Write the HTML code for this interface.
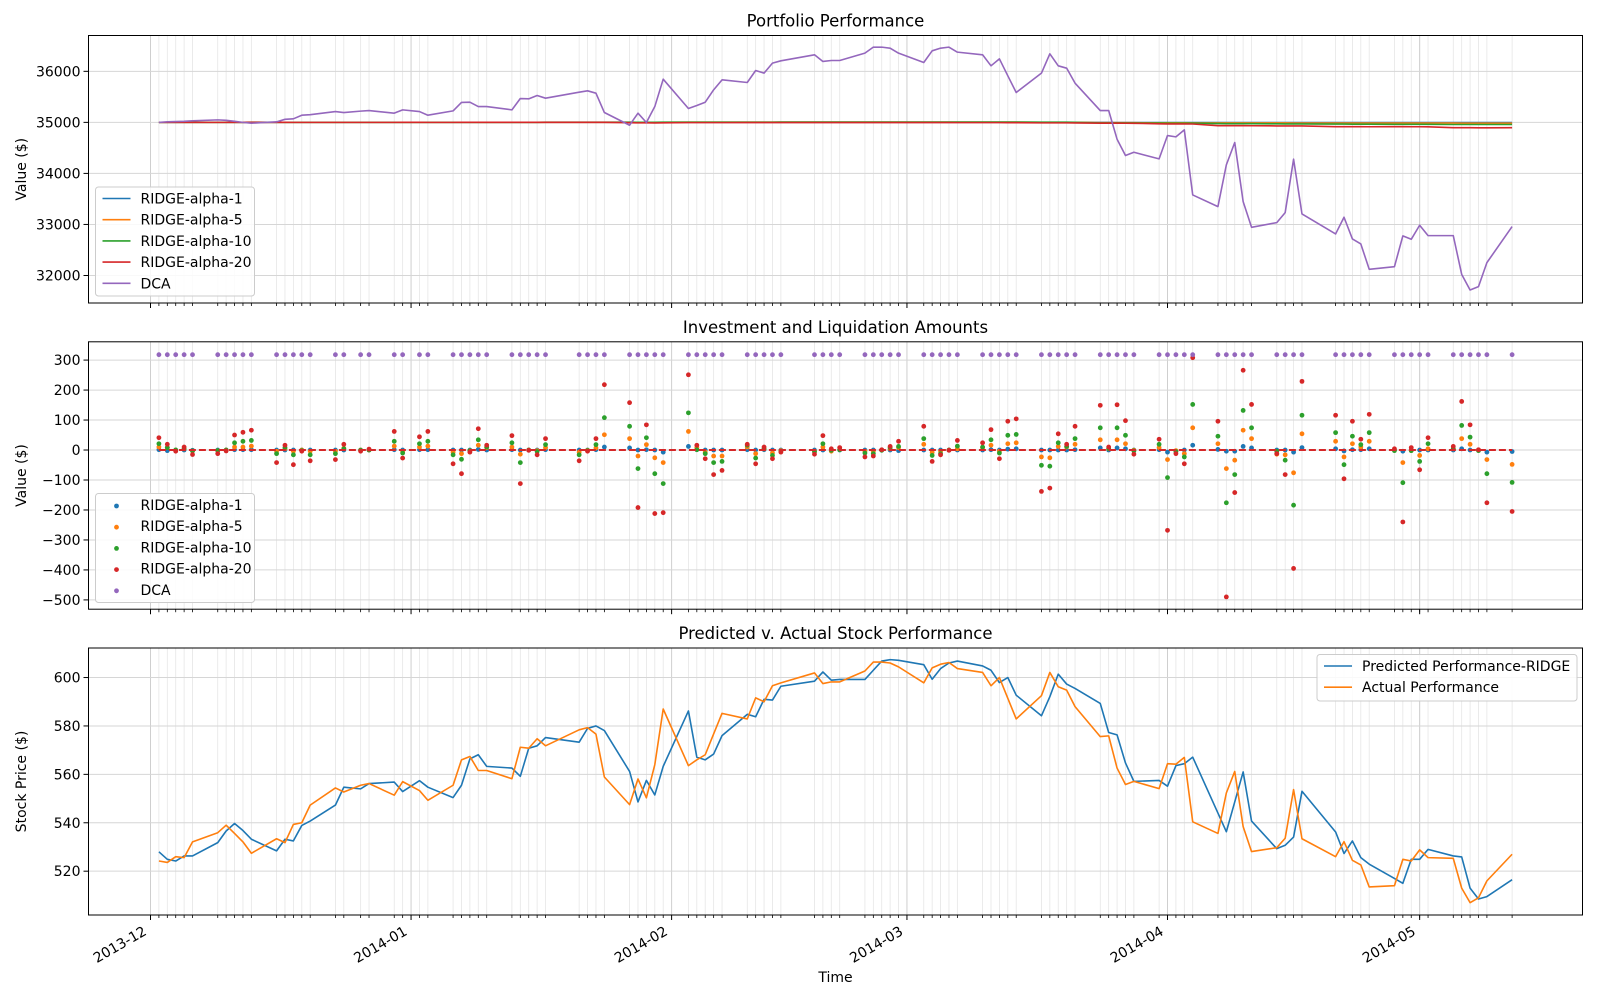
<!DOCTYPE html>
<html><head><meta charset="utf-8"><title>Portfolio Performance</title>
<style>
html,body{margin:0;padding:0;background:#fff;}
svg{display:block;font-family:"DejaVu Sans","Liberation Sans",sans-serif;}
</style></head>
<body>
<svg id="fig" xmlns="http://www.w3.org/2000/svg" width="1600" height="1000" viewBox="0 0 1600 1000"></svg>
<script>
// ---- data ----
const tradeDay = [1,2,3,4,5,8,9,10,11,12,15,16,17,18,19,22,23,25,26,29,30,
32,33,36,37,38,39,40,43,44,45,46,47,51,52,53,54,57,58,59,60,61,
64,65,66,67,68,71,72,73,74,75,79,80,81,82,85,86,87,88,89,
92,93,94,95,96,99,100,101,102,103,106,107,108,109,110,113,114,115,116,117,120,
121,122,123,124,127,128,129,130,131,134,135,136,137,141,142,143,144,145,148,149,150,
151,152,155,156,157,158,159,162];
const monthTickDays = [0,31,62,90,121,151];
const monthTickLabels = ["2013-12","2014-01","2014-02","2014-03","2014-04","2014-05"];

const dcaValue = [35000,35010,35015,35020,35030,35049,35040,35020,35000,34984,35010,35060,35070,35140,35150,35212,35193,35220,35232,35180,35245,
35212,35140,35225,35390,35395,35310,35310,35245,35467,35461,35526,35474,35591,35618,35572,35193,34944,35180,34997,35310,35846,
35271,35330,35395,35637,35833,35781,36016,35964,36160,36206,36324,36193,36212,36212,36356,36474,36474,36454,36356,
36173,36402,36454,36474,36376,36324,36108,36245,35912,35585,35964,36343,36108,36062,35768,35232,35232,34670,34350,34415,34284,
34742,34716,34853,33578,33350,34167,34605,33448,32944,33036,33232,34278,33206,32814,33141,32716,32618,32121,32173,32775,32709,
32984,32781,32781,32023,31716,31781,32252,32958];
const ridge1Value = [35000,35000,35000,35000,35000,35000,35000,35000,35000,35000,35000,35000,35000,35000,35000,35000,35000,35000,35000,35000,35000,
35000,35000,35000,35000,35000,35000,35000,35000,35000,35000,35000,35000,35000,35000,35000,35000,35000,35000,35000,35000,35000,
35000,35000,35000,35000,35000,35000,35000,35000,35000,35000,35000,35000,35000,35000,35000,35000,35000,35000,35000,
35000,35000,35000,35000,35000,35000,35000,35000,35000,35000,35000,35000,35000,35000,35000,34998,34998,34997,34997,34997,34997,
34997,34997,34997,34996,34996,34996,34996,34996,34996,34996,34996,34996,34996,34996,34996,34996,34996,34996,34996,34996,34996,
34996,34996,34996,34996,34996,34996,34996,34996];
const ridge5Value = [35000,35000,35000,35000,35000,35000,35000,35001,35001,35001,35000,35000,35000,35000,35000,35000,35000,35000,35000,35000,35001,
35001,35000,35000,35001,35001,35001,35001,35001,35001,35001,35001,35002,35002,35002,35002,35002,35001,35001,35001,35000,35002,
35003,35003,35003,35003,35003,35003,35003,35003,35003,35003,35003,35003,35003,35003,35003,35003,35003,35003,35003,
35003,35003,35003,35003,35003,35003,35003,35003,35003,35003,35002,35002,35002,35002,35002,34994,34994,34993,34993,34993,34992,
34991,34991,34991,34990,34989,34988,34988,34989,34989,34988,34988,34987,34987,34987,34987,34987,34987,34986,34986,34986,34986,
34986,34986,34986,34985,34985,34985,34985,34985];
const ridge10Value = [35000,35001,35001,35001,35001,35001,35001,35002,35002,35003,35002,35002,35001,35001,35001,35001,35001,35001,35001,35001,35002,
35002,35001,35001,35002,35002,35002,35002,35002,35002,35002,35002,35003,35003,35003,35003,35004,35003,35002,35002,35001,35003,
35004,35004,35004,35004,35004,35004,35004,35004,35004,35005,35005,35005,35005,35005,35005,35005,35005,35005,35005,
35005,35005,35005,35005,35005,35005,35005,35005,35005,35005,35004,35003,35003,35003,35002,34990,34990,34989,34988,34988,34986,
34985,34985,34985,34984,34976,34975,34975,34975,34974,34971,34970,34970,34970,34966,34966,34965,34965,34964,34962,34962,34962,
34961,34961,34958,34958,34958,34958,34958,34958];
const ridge20Value = [35000,35000,35000,35000,35000,35000,35000,35001,35001,35002,35001,35001,35000,35000,35000,35000,35000,35000,35000,35000,35001,
35001,35000,35000,35001,35001,35001,35001,35001,35001,35001,35001,35001,35001,35001,35001,35001,34993,34990,34991,34988,34992,
34995,34995,34995,34995,34995,34996,34996,34996,34996,34996,34996,34996,34996,34996,34996,34996,34996,34996,34996,
34996,34996,34996,34996,34995,34995,34995,34995,34994,34993,34990,34990,34990,34990,34988,34985,34985,34984,34983,34982,34972,
34970,34970,34970,34968,34936,34935,34935,34935,34934,34931,34930,34930,34930,34916,34915,34915,34915,34914,34915,34915,34914,
34914,34913,34896,34895,34895,34894,34894,34895];

const dcaAmount = [318,318,318,318,318,318,318,318,318,318,318,318,318,318,318,318,318,318,318,318,318,
318,318,318,318,318,318,318,318,318,318,318,318,318,318,318,318,318,318,318,318,318,
318,318,318,318,318,318,318,318,318,318,318,318,318,318,318,318,318,318,318,
318,318,318,318,318,318,318,318,318,318,318,318,318,318,318,318,318,318,318,318,318,
318,318,318,318,318,318,318,318,318,318,318,318,318,318,318,318,318,318,318,318,318,
318,318,318,318,318,318,318,318];
const ridge1Amount = [1,-2,0,0,-1,0,0,1,1,1,0,0,0,0,0,0,0,0,0,1,0,
1,1,0,0,0,2,0,1,0,0,0,1,0,0,1,10,7,0,1,0,-7,
12,1,0,0,0,1,0,1,0,0,0,0,0,0,0,0,0,0,-2,
0,0,0,0,0,0,1,0,3,4,0,0,0,0,1,7,0,7,4,0,1,
-7,-3,0,16,2,-4,-4,12,7,0,0,-7,8,4,-3,1,1,4,0,-4,0,
0,0,0,4,0,0,-7,-5];
const ridge5Amount = [10,8,0,4,-3,-2,0,10,10,13,-4,4,-4,0,-4,-4,6,0,0,13,-4,
10,13,-7,-12,-2,16,8,10,-14,0,-2,8,-7,-1,7,51,38,-20,18,-26,-42,
62,8,-7,-20,-20,10,-12,4,-10,-2,-4,10,-4,1,-4,-4,0,4,8,
19,-8,-4,0,4,8,16,-4,21,24,-23,-26,12,10,19,34,4,34,21,-1,8,
-32,-2,-12,74,21,-62,-34,66,38,-14,-16,-76,54,29,-23,21,10,29,0,-42,-2,
-18,4,4,38,19,-1,-32,-48];
const ridge10Amount = [21,8,0,4,-3,-2,0,24,29,32,-12,8,-16,-2,-16,-12,4,-1,0,29,-10,
21,29,-16,-31,-2,34,10,24,-42,0,-5,18,-16,-2,18,108,79,-62,41,-79,-112,
124,1,-12,-42,-38,16,-27,4,-18,-4,-6,21,-1,1,-10,-12,-1,8,12,
38,-18,-12,0,13,10,34,-10,49,52,-51,-54,24,12,38,74,5,74,49,-3,19,
-92,-5,-23,152,46,-176,-82,132,74,-4,-34,-184,116,58,-49,46,18,58,-2,-109,-2,
-38,21,5,82,43,-2,-79,-108];
const ridge20Amount = [41,19,-4,10,-15,-12,-3,50,59,66,-42,16,-49,-4,-36,-32,19,-4,3,62,-27,
44,62,-46,-79,-7,71,16,48,-112,-1,-16,38,-36,-4,38,218,158,-192,84,-212,-209,
251,16,-29,-82,-68,19,-46,10,-29,-7,-14,48,4,8,-23,-20,1,12,29,
79,-38,-16,-1,32,24,68,-29,96,104,-138,-127,54,19,79,149,10,151,98,-14,36,
-268,-12,-46,308,96,-490,-142,266,152,-12,-82,-395,229,116,-96,96,36,119,4,-240,8,
-66,41,12,162,84,1,-176,-205];

const predictedPrice = [528.0,524.9,524.2,526.3,526.3,531.8,536.6,539.7,536.8,533.2,528.4,533.2,532.5,538.9,540.7,547.3,554.7,554.0,556.2,556.8,552.9,
557.4,554.7,550.4,555.5,566.4,568.1,563.3,562.6,559.2,570.8,571.8,575.2,573.3,579.0,580.0,578.1,561.2,548.6,557.5,551.5,563.3,
586.2,567.1,566.0,568.4,576.0,584.8,583.8,591.0,590.7,596.4,598.5,602.3,598.9,599.2,599.2,603.0,606.8,607.4,607.1,
605.3,599.3,603.7,606.0,606.8,604.8,603.0,597.9,600.0,592.7,584.2,592.1,601.4,597.3,595.5,589.3,577.3,576.3,564.7,557.1,557.5,
555.1,563.6,564.4,567.1,544.0,536.3,548.6,561.0,540.7,529.3,530.7,534.1,553.0,536.2,527.3,532.5,525.6,522.9,517.0,515.0,524.9,
524.9,529.0,526.3,525.9,513.0,508.5,509.5,516.5];
const actualPrice = [524.2,523.6,526.0,525.6,532.1,535.9,539.0,535.6,532.1,527.4,533.4,531.8,539.3,540.0,547.3,554.4,552.7,555.5,556.2,551.4,557.0,
553.3,549.3,555.5,566.0,567.4,561.6,561.6,558.2,571.2,570.8,574.7,571.8,578.4,579.3,576.6,558.9,547.5,558.1,550.3,564.0,587.0,
563.6,566.0,568.1,576.7,585.2,582.9,591.6,590.0,596.6,597.8,601.9,597.5,598.2,598.2,602.7,606.4,606.4,606.0,604.4,
597.8,604.0,605.5,606.2,603.7,602.1,596.6,600.0,591.4,582.9,592.5,602.1,596.2,594.8,588.0,575.6,575.9,562.6,555.8,557.1,554.1,
564.4,564.2,567.0,540.4,535.6,552.3,561.2,538.4,528.1,529.7,533.6,553.7,533.4,526.0,532.2,524.5,522.6,513.5,514.0,524.9,524.2,
528.8,525.6,525.3,513.0,507.0,509.0,516.0,527.0];

const p1Ticks = [32000,33000,34000,35000,36000];
const p2Ticks = [-500,-400,-300,-200,-100,0,100,200,300];
const p3Ticks = [520,540,560,580,600];

// ---- drawing ----
const NS = "http://www.w3.org/2000/svg";
const svg = document.getElementById("fig");
function mk(tag, attrs, parent) {
  const e = document.createElementNS(NS, tag);
  for (const k in attrs) e.setAttribute(k, attrs[k]);
  (parent || svg).appendChild(e);
  return e;
}
const AX_L = 88.5, AX_R = 1582.5;
const xOf = d => 150.5 + 8.405 * d;
function yScale(dmin, dmax, top, bottom) {
  return v => bottom - (v - dmin) / (dmax - dmin) * (bottom - top);
}
const panels = [
  {name: "portfolio-panel", top: 35.5, bottom: 303, y: yScale(31461, 36702, 35.5, 303), ticks: p1Ticks, title: "Portfolio Performance", ylabel: "Value ($)"},
  {name: "investment-panel", top: 341.8, bottom: 609.2, y: yScale(-531, 361, 341.8, 609.2), ticks: p2Ticks, title: "Investment and Liquidation Amounts", ylabel: "Value ($)"},
  {name: "prediction-panel", top: 648, bottom: 915, y: yScale(501.9, 612.2, 648, 915), ticks: p3Ticks, title: "Predicted v. Actual Stock Performance", ylabel: "Stock Price ($)"}
];
const colors = {blue: "#1f77b4", orange: "#ff7f0e", green: "#2ca02c", red: "#d62728", purple: "#9467bd"};
const fmt = v => (v < 0 ? "\u2212" + Math.abs(v) : String(v));

panels.forEach((p, pi) => {
  const g = mk("g", {});
  
  
  // minor grid
  tradeDay.forEach(d => {
    const l = mk("line", {x1: xOf(d), x2: xOf(d), y1: p.top, y2: p.bottom, stroke: "#e6e6e6", "stroke-width": 0.8}, g);
    
    
    const t = mk("line", {x1: xOf(d), x2: xOf(d), y1: p.bottom, y2: p.bottom + 3, stroke: "#000", "stroke-width": 0.8}, g);
    
    
  });
  // major x grid
  monthTickDays.forEach((d, i) => {
    const l = mk("line", {x1: xOf(d), x2: xOf(d), y1: p.top, y2: p.bottom, stroke: "#cfcfcf", "stroke-width": 1}, g);
    
    
    const t = mk("line", {x1: xOf(d), x2: xOf(d), y1: p.bottom, y2: p.bottom + 5, stroke: "#000", "stroke-width": 1}, g);
    
    
    if (pi === 2) {
      const tx = xOf(d) - 3, ty = p.bottom + 19;
      const lab = mk("text", {x: tx, y: ty, "text-anchor": "end", "font-size": 14, fill: "#000", transform: "rotate(-30 " + tx + " " + ty + ")"}, g);
      lab.textContent = monthTickLabels[i];
      
      
    }
  });
  // y grid + ticks
  p.ticks.forEach(v => {
    const y = p.y(v);
    const l = mk("line", {x1: AX_L, x2: AX_R, y1: y, y2: y, stroke: "#d6d6d6", "stroke-width": 1}, g);
    
    
    const t = mk("line", {x1: AX_L - 5, x2: AX_L, y1: y, y2: y, stroke: "#000", "stroke-width": 1}, g);
    
    
    const lab = mk("text", {x: AX_L - 8, y: y + 5, "text-anchor": "end", "font-size": 14, fill: "#000"}, g);
    lab.textContent = fmt(v);
    
    
  });
  // title
  const tt = mk("text", {x: (AX_L + AX_R) / 2, y: p.top - 9, "text-anchor": "middle", "font-size": 16.5, fill: "#000"}, g);
  tt.textContent = p.title;
  
  
  // y label
  const cy = (p.top + p.bottom) / 2;
  const yl = mk("text", {x: 26, y: cy, "text-anchor": "middle", "font-size": 14, fill: "#000", transform: "rotate(-90 26 " + cy + ")"}, g);
  yl.textContent = p.ylabel;
  
  
  p.g = g;
});

function polyline(p, values, color, name) {
  const pts = values.map((v, i) => xOf(tradeDay[i]).toFixed(2) + "," + p.y(v).toFixed(2)).join(" ");
  const pl = mk("polyline", {points: pts, fill: "none", stroke: color, "stroke-width": 1.6, "stroke-linejoin": "round"}, p.g);
  
  
}
function scatter(p, values, color, name) {
  const sg = mk("g", {fill: color}, p.g);
  
  
  values.forEach((v, i) => {
    const c = mk("circle", {cx: xOf(tradeDay[i]), cy: p.y(v), r: 2.4}, sg);
    
    
  });
}
// panel 1
polyline(panels[0], ridge1Value, colors.blue, "ridge-alpha-1-line");
polyline(panels[0], ridge5Value, colors.orange, "ridge-alpha-5-line");
polyline(panels[0], ridge10Value, colors.green, "ridge-alpha-10-line");
polyline(panels[0], ridge20Value, colors.red, "ridge-alpha-20-line");
polyline(panels[0], dcaValue, colors.purple, "dca-line");
// panel 2
scatter(panels[1], ridge1Amount, colors.blue, "ridge-alpha-1-points");
scatter(panels[1], ridge5Amount, colors.orange, "ridge-alpha-5-points");
scatter(panels[1], ridge10Amount, colors.green, "ridge-alpha-10-points");
scatter(panels[1], ridge20Amount, colors.red, "ridge-alpha-20-points");
scatter(panels[1], dcaAmount, colors.purple, "dca-points");
const zl = mk("line", {x1: xOf(tradeDay[0]), x2: xOf(tradeDay[tradeDay.length - 1]), y1: panels[1].y(0), y2: panels[1].y(0), stroke: colors.red, "stroke-width": 2, "stroke-dasharray": "7,3"}, panels[1].g);


// panel 3
polyline(panels[2], predictedPrice, colors.blue, "predicted-line");
polyline(panels[2], actualPrice, colors.orange, "actual-line");

// spines
panels.forEach(p => {
  const r = mk("rect", {x: AX_L, y: p.top, width: AX_R - AX_L, height: p.bottom - p.top, fill: "none", stroke: "#000", "stroke-width": 1}, p.g);
  
  
});

// legends
function legend(p, box, entries, kind, name) {
  const lg = mk("g", {}, p.g);
  
  
  const bx = mk("rect", {x: box[0], y: box[1], width: box[2], height: box[3], rx: 3, fill: "#fff", "fill-opacity": 0.85, stroke: "#cccccc", "stroke-width": 1}, lg);
  
  
  entries.forEach((e, i) => {
    const y = box[1] + 11.5 + i * 21.2;
    if (kind === "line") {
      const l = mk("line", {x1: box[0] + 7, x2: box[0] + 35, y1: y, y2: y, stroke: e[1], "stroke-width": 1.6}, lg);
      
      
    } else {
      const c = mk("circle", {cx: box[0] + 21, cy: y + 1, r: 2.4, fill: e[1]}, lg);
      
      
    }
    const t = mk("text", {x: box[0] + 45, y: y + 5, "font-size": 14, fill: "#000"}, lg);
    t.textContent = e[0];
    
    
  });
}
const ridgeEntries = [["RIDGE-alpha-1", colors.blue], ["RIDGE-alpha-5", colors.orange], ["RIDGE-alpha-10", colors.green], ["RIDGE-alpha-20", colors.red], ["DCA", colors.purple]];
legend(panels[0], [95.5, 187, 159, 109], ridgeEntries, "line", "portfolio-legend");
legend(panels[1], [95.5, 493.5, 159, 109], ridgeEntries, "dot", "investment-legend");
legend(panels[2], [1317, 654.5, 260, 46.5], [["Predicted Performance-RIDGE", colors.blue], ["Actual Performance", colors.orange]], "line", "prediction-legend");

const xt = mk("text", {x: (AX_L + AX_R) / 2, y: 982, "text-anchor": "middle", "font-size": 14, fill: "#000"});
xt.textContent = "Time";


</script>
</body></html>
